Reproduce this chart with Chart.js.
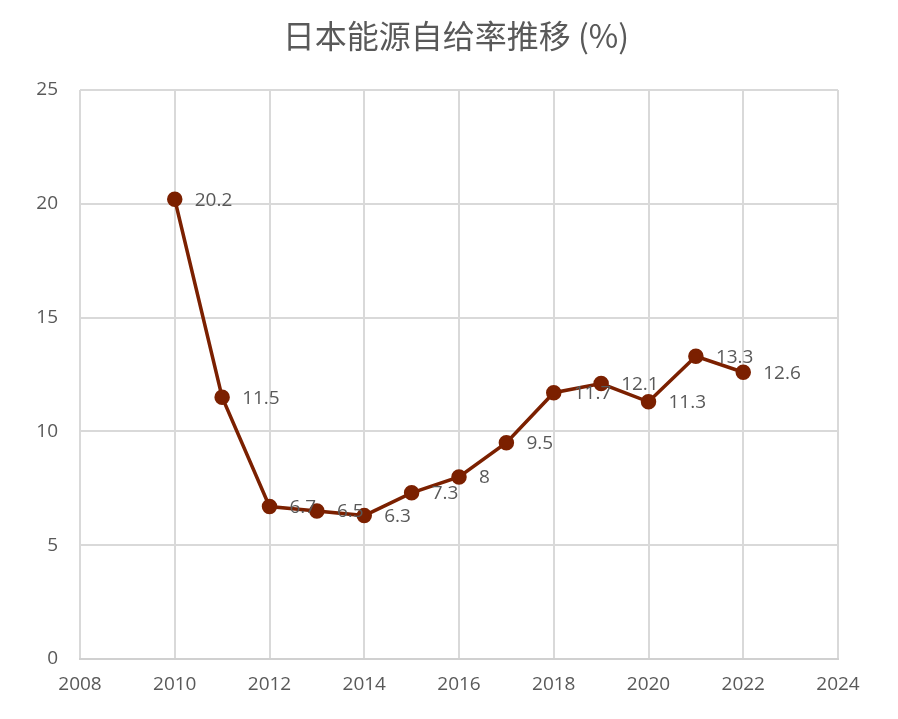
<!DOCTYPE html>
<html>
<head>
<meta charset="utf-8">
<script src="https://cdn.jsdelivr.net/npm/chart.js@4"></script>
<style>
  html, body { margin: 0; padding: 0; background: #fff; }
  #wrap { width: 898px; height: 719px; }
</style>
</head>
<body>
<div id="wrap"><canvas id="selfChart" width="898" height="719"></canvas></div>
<script>
// data
const years = [2010, 2011, 2012, 2013, 2014, 2015, 2016, 2017, 2018, 2019, 2020, 2021, 2022];
const selfRate = [20.2, 11.5, 6.7, 6.5, 6.3, 7.3, 8, 9.5, 11.7, 12.1, 11.3, 13.3, 12.6];
const xTicks = [2008, 2010, 2012, 2014, 2016, 2018, 2020, 2022, 2024];
const yTicks = [0, 5, 10, 15, 20, 25];
const chartTitle = '日本能源自给率推移 (%)';

const textColor = '#595959';
const lineColor = '#7b2000';
const labelFont = '19px "Open Sans", "Noto Sans", sans-serif';

// title + value labels drawn by hand
const extrasPlugin = {
    id: 'extras',
    afterDatasetsDraw(chart) {
        const ctx = chart.ctx;
        const meta = chart.getDatasetMeta(0);
        ctx.save();
        ctx.fillStyle = textColor;
        ctx.font = labelFont;
        ctx.textAlign = 'left';
        ctx.textBaseline = 'middle';
        meta.data.forEach((pt, i) => {
            ctx.fillText(String(selfRate[i]), pt.x + 20, pt.y + 1);
        });
        ctx.font = '32px "Noto Sans CJK SC", sans-serif';
        ctx.textAlign = 'center';
        ctx.fillText(chartTitle, 456, 36);
        ctx.restore();
    }
};

const points = years.map((y, i) => ({ x: y, y: selfRate[i] }));

new Chart(document.getElementById('selfChart'), {
    type: 'line',
    data: {
        datasets: [{
            data: points,
            borderColor: lineColor,
            backgroundColor: lineColor,
            borderWidth: 3.5,
            pointRadius: 6,
            pointBackgroundColor: lineColor,
            pointBorderColor: lineColor,
            tension: 0
        }]
    },
    options: {
        responsive: false,
        animation: false,
        layout: { padding: { top: 90, right: 60, left: 0, bottom: 0 } },
        plugins: {
            legend: { display: false },
            tooltip: { enabled: false }
        },
        scales: {
            x: {
                type: 'linear',
                min: xTicks[0],
                max: xTicks[xTicks.length - 1],
                afterBuildTicks: axis => { axis.ticks = xTicks.map(v => ({ value: v })); },
                afterFit: axis => { axis.height = 60; },
                grid: { color: '#d9d9d9', lineWidth: 2, drawTicks: false },
                border: { color: '#d0d0d0', width: 2 },
                ticks: {
                    color: textColor,
                    font: { family: '"Open Sans", "Noto Sans", sans-serif', size: 19 },
                    padding: 14,
                    maxRotation: 0,
                    callback: v => String(v)
                }
            },
            y: {
                min: 0,
                max: 25,
                afterBuildTicks: axis => { axis.ticks = yTicks.map(v => ({ value: v })); },
                afterFit: axis => { axis.width = 80; },
                grid: { color: '#d9d9d9', lineWidth: 2, drawTicks: false },
                border: { display: false },
                ticks: {
                    color: textColor,
                    font: { family: '"Open Sans", "Noto Sans", sans-serif', size: 19 },
                    padding: 22
                }
            }
        }
    },
    plugins: [extrasPlugin]
});
</script>
</body>
</html>
